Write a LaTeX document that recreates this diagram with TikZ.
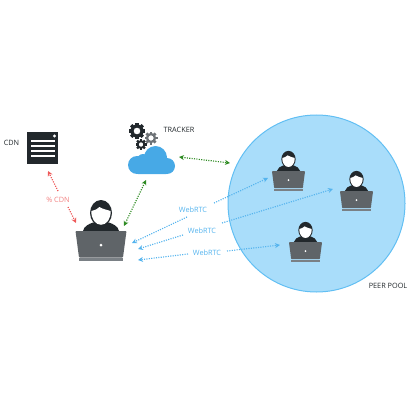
\documentclass[tikz,border=0pt]{standalone}
\usepackage{fontspec}
\setmainfont{Open Sans}
\usetikzlibrary{arrows.meta}
\definecolor{peerfill}{HTML}{A9DDFA}
\definecolor{peerline}{HTML}{62BFF3}
\definecolor{cloudblue}{HTML}{47A9E6}
\definecolor{webblue}{HTML}{55B4EE}
\definecolor{dark}{HTML}{22282C}
\definecolor{laptopgrey}{HTML}{5F6468}
\definecolor{basegrey}{HTML}{7A8085}
\definecolor{geargrey}{HTML}{6E7377}
\definecolor{cdnred}{HTML}{EE5A5A}
\definecolor{trackgreen}{HTML}{2E8B22}

\begin{document}
\begin{tikzpicture}[
    x=1pt, y=-1pt,
    font=\fontsize{7.3}{8}\selectfont,
    dotarrow/.style={line width=1.15pt, dash pattern=on 1.1pt off 1.3pt},
    webrtc/.style={dotarrow, draw=webblue},
    cdnlink/.style={dotarrow, draw=cdnred},
    trackerlink/.style={dotarrow, draw=trackgreen},
    tiphead/.style={-{Stealth[length=5pt,width=5pt]}},
    bothheads/.style={{Stealth[length=5pt,width=5pt]}-{Stealth[length=5pt,width=5pt]}},
    caption/.style={text=dark, inner sep=0pt},
    weblabel/.style={text=webblue, inner sep=0pt},
    user/.pic={
        % shoulders, head, face
        \fill[dark] (-18,0) .. controls (-17,-5) and (-12,-7) .. (-8,-8.5) -- (8,-8.5) .. controls (12,-7) and (17,-5) .. (18,0) -- cycle;
        \fill[dark] (0,-18) ellipse (11 and 13);
        \fill[white] (-9.6,-20) .. controls (-6,-21) and (-3,-22) .. (-1.5,-24) .. controls (2,-21.5) and (6,-21.5) .. (9.6,-20)
            .. controls (10,-12) and (5.5,-6.2) .. (0,-6.2) .. controls (-5.5,-6.2) and (-10,-12) .. (-9.6,-20) -- cycle;
        % laptop
        \fill[laptopgrey, rounded corners=0.8pt] (-25.5,0) -- (25.5,0) -- (22,26.5) -- (-22,26.5) -- cycle;
        \fill[basegrey] (-22,27) rectangle (22,30);
        \fill[white] (0,14) circle (1.5);
    },
    gear/.pic={
        \foreach \a in {0,45,...,315}
            \fill[rotate=\a, pic actions] (-2,-10) rectangle (2,-6);
        \fill[pic actions, even odd rule] (0,0) circle (8) (0,0) circle (4.2);
    },
]

% circle behind the peers
\node[circle, draw=peerline, fill=peerfill, line width=1pt, minimum size=177pt, inner sep=0pt] (pool) at (316.5,203.5) {};

% users
\pic at (101,231) {user};
\pic[scale=0.65] at (288.5,171) {user};
\pic[scale=0.65] at (356.5,191) {user};
\pic[scale=0.65] at (305.5,242) {user};

% cdn
\node[fill=dark, minimum width=31pt, minimum height=32pt, inner sep=0pt] (cdn) at (42.5,148) {};
\fill[white] (54.5,136) circle (1.7);
\foreach \y in {141,146,151,156}
    \fill[white] (31,\y-0.7) rectangle (54.5,\y+0.7);

% tracker
\fill[cloudblue, rounded corners=1pt] (137,164) rectangle (167,174);
\fill[cloudblue] (137,165) circle (9) (143,160) circle (6) (155.5,157.5) circle (11.5) (167,166) circle (8);
\pic[dark, scale=0.82] at (137,131) {gear};
\pic[geargrey, scale=0.65] at (151,138) {gear};
\pic[dark, scale=0.55] at (141,144.5) {gear};

% labels
\node[caption] (cdnlabel) at (11.5,143) {CDN};
\node[caption] (trackerlabel) at (179,129.5) {TRACKER};
\node[caption] (poollabel) at (388,286) {PEER POOL};
\node[text=cdnred!75, inner sep=0pt] (cdnshare) at (58,200) {\% CDN};
\node[weblabel] (webone) at (193,210) {WebRTC};
\node[weblabel] (webtwo) at (202,231) {WebRTC};
\node[weblabel] (webthree) at (207,253) {WebRTC};

% arrow ends
\coordinate (cdntip) at (48,171);
\coordinate (cdnbreaka) at (58,191);
\coordinate (cdnbreakb) at (68,207);
\coordinate (maincdn) at (76,223);
\coordinate (cloudtip) at (146,180);
\coordinate (maincloud) at (124,226);
\coordinate (cloudright) at (179,157);
\coordinate (poolleft) at (230,163);
\coordinate (mainone) at (132,243);
\coordinate (mainonegap) at (187,217);
\coordinate (peeronegap) at (214,203);
\coordinate (peerone) at (268,178);
\coordinate (maintwo) at (138,249);
\coordinate (maintwogap) at (183,235);
\coordinate (peertwogap) at (222,223);
\coordinate (peertwo) at (333,189);
\coordinate (mainthree) at (138,260);
\coordinate (mainthreegap) at (188,254);
\coordinate (peerthreegap) at (227,251);
\coordinate (peerthree) at (280,245);

% arrows
\draw[cdnlink, tiphead] (cdnbreaka) -- (cdntip);
\draw[cdnlink, tiphead] (cdnbreakb) -- (maincdn);
\draw[trackerlink, bothheads] (cloudtip) -- (maincloud);
\draw[trackerlink, bothheads] (cloudright) -- (poolleft);
\draw[webrtc, tiphead] (mainonegap) -- (mainone);
\draw[webrtc, tiphead] (peeronegap) -- (peerone);
\draw[webrtc, tiphead] (maintwogap) -- (maintwo);
\draw[webrtc, tiphead] (peertwogap) -- (peertwo);
\draw[webrtc, tiphead] (mainthreegap) -- (mainthree);
\draw[webrtc, tiphead] (peerthreegap) -- (peerthree);

\useasboundingbox (0,0) rectangle (408,409);
\end{tikzpicture}
\end{document}
